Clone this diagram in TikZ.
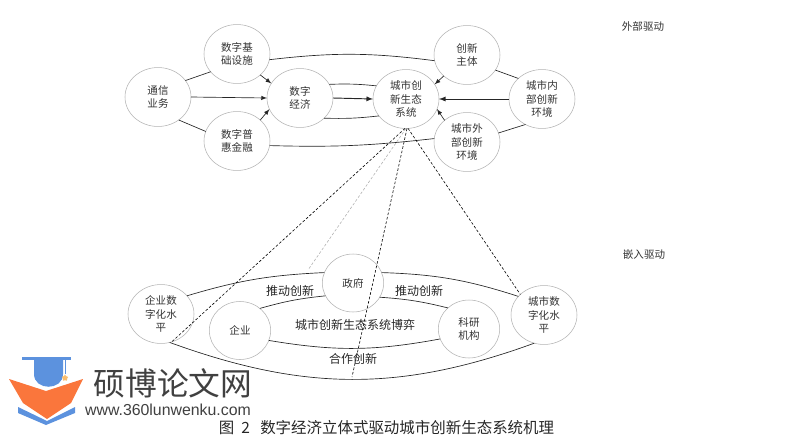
\documentclass[tikz,border=0pt]{standalone}
\usepackage{fontspec}
\usetikzlibrary{shapes.geometric}
\newfontfamily\cjk{Noto Sans CJK SC}
\newfontfamily\webfont{Liberation Sans}
\definecolor{logoblue}{RGB}{92,146,222}
\definecolor{logoorange}{RGB}{250,118,60}
\definecolor{logostar}{RGB}{250,190,110}
\tikzset{
  bubble/.style = {ellipse, draw = gray!60, fill = white, inner sep = 0pt, outer sep = 0pt,
    minimum width = 49.5pt, minimum height = 44.2pt, align = center, text = black!80,
    font = \cjk\fontsize{7.9}{10}\selectfont},
  smallbubble/.style = {bubble, minimum width = 46pt, minimum height = 43.5pt},
  tag/.style = {text = black!80, font = \cjk\fontsize{7.9}{10}\selectfont},
  game/.style = {text = black!85, font = \cjk\fontsize{9}{11}\selectfont},
  link/.style = {black!85, line width = 0.5pt},
  push/.style = {link, -latex},
  probe/.style = {black, line width = 0.45pt, dash pattern = on 2pt off 1.4pt}
}
\begin{document}
\begin{tikzpicture}[x = 0.75pt, y = -0.75pt]
\useasboundingbox (0,0) rectangle (786,447);

\node[bubble] (tele) at (158,97) {通信\\业务};
\node[bubble] (infra) at (237,54) {数字基\\础设施};
\node[bubble] (fin) at (237,141) {数字普\\惠金融};
\node[bubble] (econ) at (300,98) {数字\\经济};
\node[bubble] (eco) at (406,99) {城市创\\新生态\\系统};
\node[bubble] (subj) at (467,55) {创新\\主体};
\node[bubble] (inner) at (542,99) {城市内\\部创新\\环境};
\node[bubble] (outer) at (467,142) {城市外\\部创新\\环境};

\node[bubble] (firmd) at (161,314) {企业数\\字化水\\平};
\node[smallbubble] (firm) at (240,330.5) {企业};
\node[smallbubble] (gov) at (353,283) {政府};
\node[smallbubble] (sci) at (469,329) {科研\\机构};
\node[bubble] (cityd) at (544,315) {城市数\\字化水\\平};

\draw[link] (tele.31) to (infra.214);
\draw[link] (tele.-48) to (fin.163);
\draw[push] (tele.east) to (econ.west);
\draw[push] (infra.-42) to (econ.153);
\draw[push] (fin.42) to (econ.200);
\draw[link] (infra.-10) to[bend left = 7] (subj.190);
\draw[link] (fin.-8) to[bend right = 4] (outer.174);
\draw[link] (econ.25) to[bend left = 4] (eco.156);
\draw[link] (econ.-40) to[bend right = 4] (eco.212);
\draw[push, line width = 0.7pt] (econ.east) to (eco.west);
\draw[push] (subj.222) to (eco.27);
\draw[push, line width = 0.7pt] (inner.west) to (eco.east);
\draw[push] (outer.136) to (eco.-18);
\draw[link] (subj.-28) to (inner.139);
\draw[link] (outer.16) to (inner.237);

\draw[link] (firmd.35) to[bend left = 7] (gov.160);
\draw[link] (gov.20) to[bend left = 8] (cityd.144);
\draw[link] (firm.48) to[bend left = 5] (gov.205);
\draw[link] (gov.-28) to[bend left = 5] (sci.135);
\draw[link] (firm.-19) to[bend right = 10] (sci.199);
\draw[link] (firmd.-73) to[out = -20, in = -160] (cityd.-109);

\coordinate (rim) at (352,377);
\coordinate (grayend) at (308,270);
\draw[probe] (eco.-92) to (firmd.-69);
\draw[probe, gray!60] (eco.-90) to (grayend);
\draw[probe] (eco.-88) to (rim);
\draw[probe] (eco.-86) to (cityd.139);

\node[game] (pushl) at (290,291) {推动创新};
\node[game] (pushr) at (419,291) {推动创新};
\node[game] (gametxt) at (355,325) {城市创新生态系统博弈};
\node[game] (cooptxt) at (353,359) {合作创新};
\node[tag] (ext) at (643,26) {外部驱动};
\node[tag] (emb) at (644,254) {嵌入驱动};

% logo
\fill[logoorange] (9,379) -- (46,391) -- (83,379) -- (71,403) -- (47,419) -- (23,403) -- cycle;
\fill[logoblue] (18,407) -- (47,421) -- (75,407) -- (75,413) -- (46,425) -- (18,413) -- cycle;
\fill[logoblue] (22,357) rectangle (71,360);
\fill[logoblue] (34,360) -- (63,360) -- (63,374) .. controls (63,391) and (34,391) .. (34,374) -- cycle;
\draw[logoblue, line width = 0.5pt] (65,359) to (65,374);
\node[star, star points = 5, fill = logostar, inner sep = 0pt, minimum size = 5pt] (starmark) at (65,378) {};
\node[text = black!75, font = \cjk\fontsize{23.8}{26}\selectfont] (logotxt) at (173,383) {硕博论文网};
\node[text = black!75, font = \webfont\fontsize{11.9}{14}\selectfont] (weburl) at (168,410) {www.360lunwenku.com};

\node[text = black!85, font = \cjk\fontsize{11.6}{13}\selectfont] (caption) at (386.5,428) {图\ \ 2\ \ \ 数字经济立体式驱动城市创新生态系统机理};

\end{tikzpicture}
\end{document}
